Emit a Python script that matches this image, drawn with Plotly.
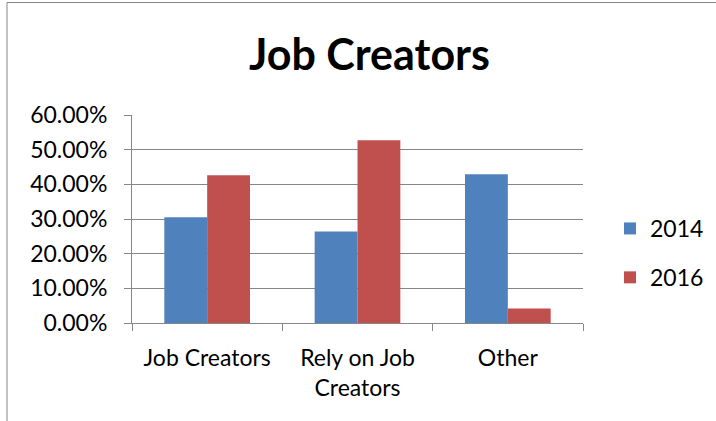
import plotly.graph_objects as go

categories = ["Job Creators", "Rely on Job<br>Creators", "Other"]
series_names = ["2014", "2016"]
values_2014 = [0.305, 0.264, 0.429]
values_2016 = [0.426, 0.527, 0.042]
y_ticks = [0, 0.1, 0.2, 0.3, 0.4, 0.5, 0.6]
y_tick_labels = ["0.00%", "10.00%", "20.00%", "30.00%", "40.00%", "50.00%", "60.00%"]
title_text = "Job Creators"

FONT = "Lato, Calibri, Carlito, sans-serif"
GRID = "#868686"

fig = go.Figure()
fig.add_trace(go.Bar(x=categories, y=values_2014, name=series_names[0],
                     marker=dict(color="#4F81BD", line=dict(width=0)), legendgroup="a"))
fig.add_trace(go.Bar(x=categories, y=values_2016, name=series_names[1],
                     marker=dict(color="#C0504D", line=dict(width=0)), legendgroup="b"))

W, H = 716, 421
L, R, T, B = 132, 583, 115, 323
pw, ph = R - L, B - T

def px(x):
    return (x - L) / pw

def py(y):
    return (B - y) / ph

fig.update_layout(
    width=W, height=H,
    margin=dict(l=L, r=W - R, t=T, b=H - B, pad=0, autoexpand=False),
    paper_bgcolor="white", plot_bgcolor="white",
    font=dict(family=FONT, size=23, color="black"),
    title=dict(text="<b>" + title_text + "</b>", font=dict(family=FONT, size=43, color="black"),
               x=px(369.5), xref="paper", xanchor="center",
               y=1 - 55 / H, yref="container", yanchor="middle"),
    barmode="group", bargap=0.43, bargroupgap=0,
    showlegend=True,
    legend=dict(x=610 / W, xref="container", xanchor="left",
                y=1 - 253 / H, yref="container", yanchor="middle",
                font=dict(family=FONT, size=23, color="black"),
                traceorder="grouped", tracegroupgap=16,
                bgcolor="rgba(0,0,0,0)", borderwidth=0),
    xaxis=dict(type="category", showgrid=False, showline=True, linecolor=GRID, linewidth=1,
               ticks="outside", tickson="boundaries", ticklen=7, tickcolor=GRID,
               tickfont=dict(family=FONT, size=23, color="black"), ticklabelstandoff=14),
    yaxis=dict(range=[0, 0.6], tickvals=y_ticks, ticktext=y_tick_labels,
               showgrid=True, gridcolor=GRID, gridwidth=1,
               showline=True, linecolor=GRID, linewidth=1,
               ticks="outside", ticklen=7, tickcolor=GRID, zeroline=False,
               tickfont=dict(family=FONT, size=23, color="black"), ticklabelstandoff=12),
    shapes=[dict(type="rect", xref="paper", yref="paper",
                 x0=px(7), x1=px(740), y0=py(440), y1=py(2.5),
                 line=dict(color=GRID, width=1), fillcolor="rgba(0,0,0,0)", layer="below")],
)

fig.write_html("out.html", config={"displayModeBar": False},
               post_script="document.body.style.margin='0';document.body.style.overflow='hidden';")
